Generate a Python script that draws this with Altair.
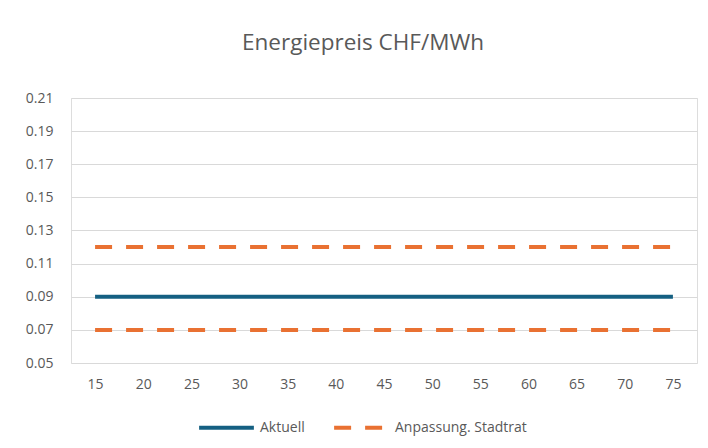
import altair as alt
import pandas as pd

# --- data ---
x_values = [15, 20, 25, 30, 35, 40, 45, 50, 55, 60, 65, 70, 75]
aktuell = [0.09, 0.09, 0.09, 0.09, 0.09, 0.09, 0.09, 0.09, 0.09, 0.09, 0.09, 0.09, 0.09]
stadtrat_hoch = [0.12, 0.12, 0.12, 0.12, 0.12, 0.12, 0.12, 0.12, 0.12, 0.12, 0.12, 0.12, 0.12]
stadtrat_tief = [0.07, 0.07, 0.07, 0.07, 0.07, 0.07, 0.07, 0.07, 0.07, 0.07, 0.07, 0.07, 0.07]
series_names = ["Aktuell", "Anpassung. Stadtrat"]
y_ticks = [0.05, 0.07, 0.09, 0.11, 0.13, 0.15, 0.17, 0.19, 0.21]

rows = []
for xv, a, h, t in zip(x_values, aktuell, stadtrat_hoch, stadtrat_tief):
    rows.append({"x": xv, "y": a, "series": series_names[0], "line": "a"})
    rows.append({"x": xv, "y": h, "series": series_names[1], "line": "h"})
    rows.append({"x": xv, "y": t, "series": series_names[1], "line": "t"})
df = pd.DataFrame(rows)

FONT = "Open Sans"
GRAY = "#595959"

legend = alt.Legend(
    title=None, orient="none", legendX=126, legendY=300, direction="horizontal",
    symbolType="stroke", symbolStrokeWidth=4, symbolSize=3000,
    labelFontSize=14, labelColor=GRAY, labelFont=FONT, labelOffset=4,
    columnPadding=21,
)

lines = alt.Chart(df).mark_line(strokeWidth=4).encode(
    x=alt.X("x:O", title=None,
            scale=alt.Scale(type="point", padding=0.5),
            axis=alt.Axis(labelAngle=0, domain=False, ticks=False, labelPadding=14,
                          labelFontSize=14, labelColor=GRAY, labelFont=FONT, grid=False)),
    y=alt.Y("y:Q", title=None,
            scale=alt.Scale(domain=[0.05, 0.21], nice=False, zero=False),
            axis=alt.Axis(values=y_ticks, format=".2f", domain=False, ticks=False,
                          labelPadding=18, labelFontSize=14, labelColor=GRAY, labelFont=FONT,
                          gridColor="#d9d9d9", gridWidth=1)),
    color=alt.Color("series:N", title=None, legend=legend,
                    scale=alt.Scale(domain=series_names, range=["#156082", "#E97132"])),
    strokeDash=alt.StrokeDash("series:N", title=None, legend=legend,
                              scale=alt.Scale(domain=series_names, range=[[1, 0], [17, 14]])),
    detail="line:N",
)

chart = lines.properties(
    width=626, height=265,
    title=alt.TitleParams("Energiepreis CHF/MWh", fontSize=22.5, font=FONT, color=GRAY,
                          fontWeight="normal", anchor="middle", dx=-21, offset=37),
    autosize=alt.AutoSizeParams(type="none"),
    padding={"left": 63, "top": 90, "right": 3, "bottom": 77},
).configure_view(stroke=None).configure(background="white")

chart.save("out.html", embed_options={"renderer": "svg", "actions": False})
